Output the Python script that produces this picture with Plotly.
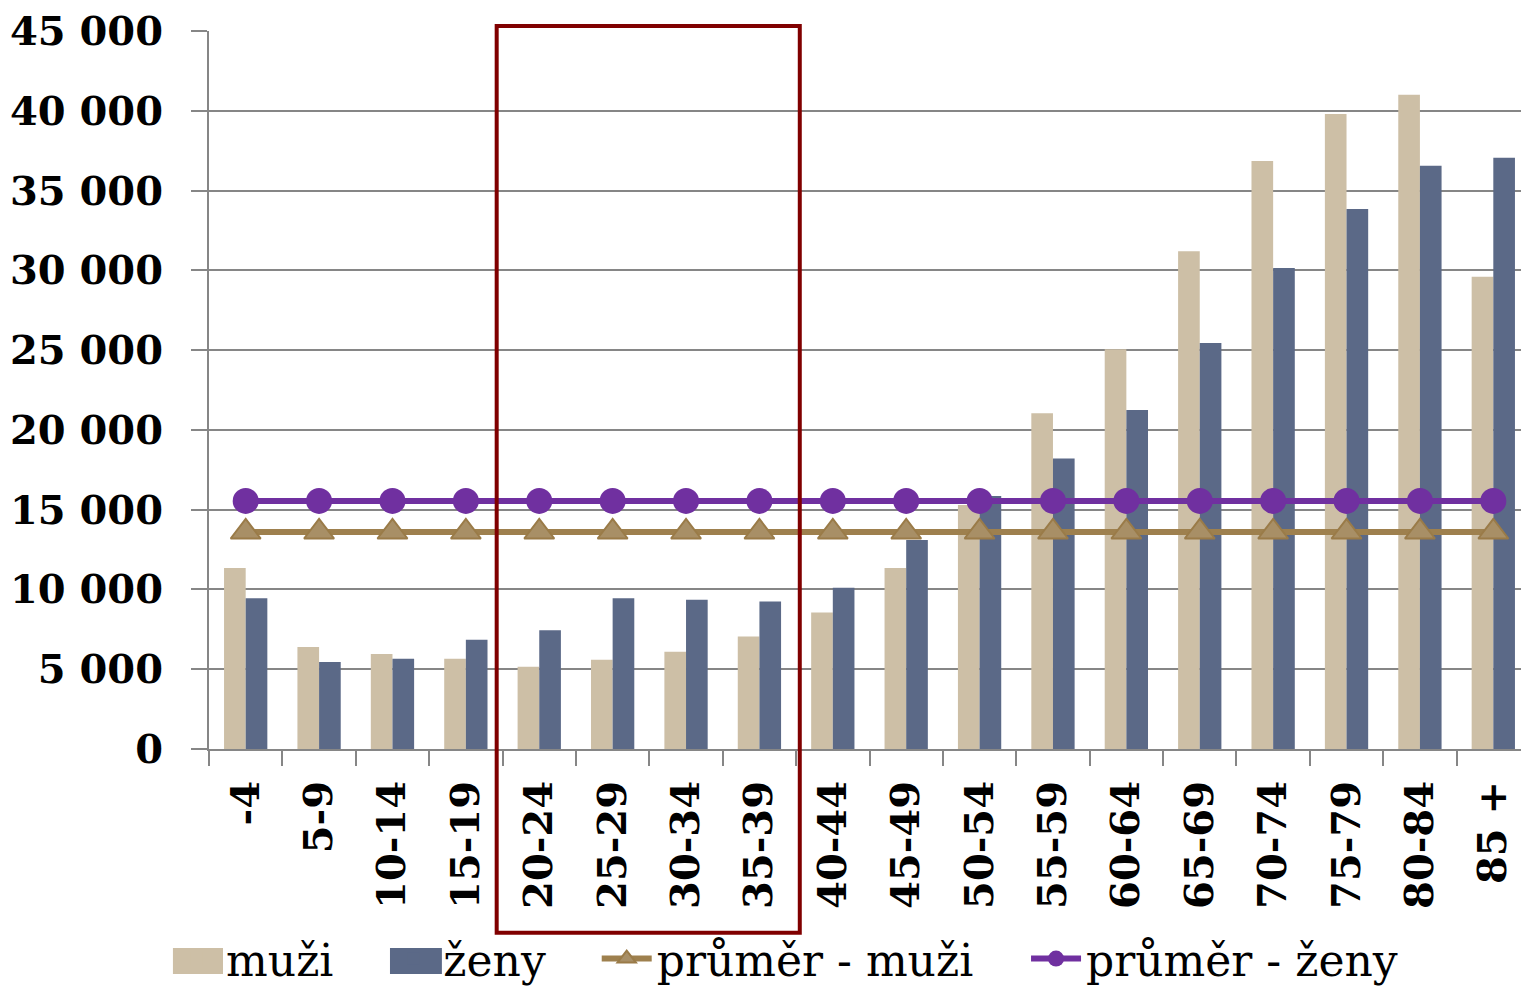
import plotly.graph_objects as go

# age groups
categories = ["-4", "5-9", "10-14", "15-19", "20-24", "25-29", "30-34", "35-39",
              "40-44", "45-49", "50-54", "55-59", "60-64", "65-69", "70-74",
              "75-79", "80-84", "85 +"]

muzi = [11350, 6400, 5950, 5650, 5150, 5600, 6100, 7050, 8550, 11350,
        15300, 21050, 25050, 31200, 36850, 39800, 41000, 29600]
zeny = [9450, 5450, 5650, 6850, 7450, 9450, 9350, 9250, 10100, 13100,
        15850, 18200, 21250, 25450, 30150, 33850, 36550, 37050]

prumer_muzi = 13600
prumer_zeny = 15550

tick_vals = [0, 5000, 10000, 15000, 20000, 25000, 30000, 35000, 40000, 45000]
tick_text = ["0", "5 000", "10 000", "15 000", "20 000", "25 000",
             "30 000", "35 000", "40 000", "45 000"]

font_family = "DejaVu Serif"
grid_color = "#868686"
muzi_color = "#CDBFA6"
zeny_color = "#5B6987"

fig = go.Figure()

fig.add_trace(go.Bar(x=categories, y=muzi, name="muži", legend="legend",
                     marker=dict(color=muzi_color, line=dict(width=0))))
fig.add_trace(go.Bar(x=categories, y=zeny, name="ženy", legend="legend2",
                     marker=dict(color=zeny_color, line=dict(width=0))))

fig.add_trace(go.Scatter(
    x=categories, y=[prumer_muzi] * len(categories), name="průměr - muži",
    legend="legend3", mode="lines+markers",
    line=dict(color="#9E804E", width=6),
    marker=dict(symbol="triangle-up", size=26, color="#A88F66",
                line=dict(color="#9A7B48", width=2)),
))
fig.add_trace(go.Scatter(
    x=categories, y=[prumer_zeny] * len(categories), name="průměr - ženy",
    legend="legend4", mode="lines+markers",
    line=dict(color="#7030A0", width=6),
    marker=dict(symbol="circle", size=26, color="#7030A0"),
))

# highlight box around 20-39
fig.add_shape(type="rect", xref="x", yref="paper",
              x0=3.42, x1=7.55, y0=-0.256, y1=1.007,
              line=dict(color="#800000", width=4), fillcolor="rgba(0,0,0,0)")

# wider legend keys for the bar series (plotly's bar key is a small square)
for x0, x1, col in [(-0.0273, 0.0106, muzi_color), (0.1370, 0.1763, zeny_color)]:
    fig.add_shape(type="rect", xref="paper", yref="paper",
                  x0=x0, x1=x1, y0=-0.2772, y1=-0.3134,
                  line=dict(width=0), fillcolor=col, layer="above")

legend_common = dict(orientation="h", yanchor="middle", y=-0.2925, xanchor="left",
                     font=dict(family=font_family, size=44), itemwidth=50,
                     bgcolor="rgba(0,0,0,0)")

# page body adds a small offset, so the figure is sized to the visible area
fig.update_layout(
    width=1522, height=978,
    margin=dict(l=201, r=0, t=23, b=237, autoexpand=False),
    plot_bgcolor="white", paper_bgcolor="white",
    barmode="group", bargap=0.41, bargroupgap=0,
    font=dict(family=font_family, color="black"),
    showlegend=True,
    legend=dict(x=-0.0325, **legend_common),
    legend2=dict(x=0.132, **legend_common),
    legend3=dict(x=0.2935, **legend_common),
    legend4=dict(x=0.6185, **legend_common),
)

fig.update_xaxes(
    type="category", range=[-0.5, 17.5], tickangle=-90, tickson="boundaries",
    ticks="outside", ticklen=15, tickwidth=2, tickcolor=grid_color,
    ticklabelstandoff=14, ticklabeloverflow="allow",
    showline=True, linecolor=grid_color, linewidth=2,
    tickfont=dict(family=font_family, size=40, weight="bold"),
    showgrid=False, automargin=False,
)
fig.update_yaxes(
    range=[0, 45000], tickvals=tick_vals, ticktext=tick_text,
    ticks="outside", ticklen=16, tickwidth=2, tickcolor=grid_color,
    ticklabelstandoff=20, ticklabeloverflow="allow",
    showline=True, linecolor=grid_color, linewidth=2,
    showgrid=True, gridcolor=grid_color, gridwidth=2,
    tickfont=dict(family=font_family, size=40, weight="bold"),
    zeroline=False, automargin=False,
)

fig.write_html("out.html")
